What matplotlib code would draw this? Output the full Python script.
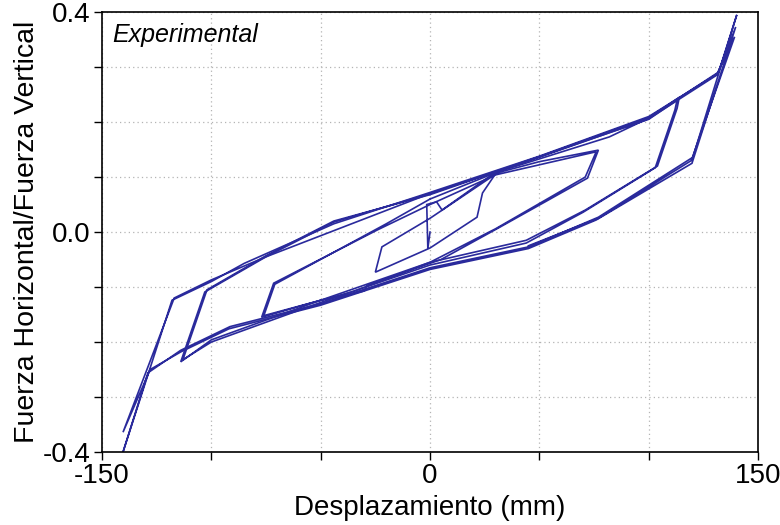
#!/usr/bin/env python3
"""
Hysteresis plot - horizontal/vertical force ratio vs displacement
"""

import matplotlib
matplotlib.use('Agg')
import matplotlib.pyplot as plt
from matplotlib.ticker import FixedLocator

plt.rcParams['font.family'] = ['Liberation Sans', 'DejaVu Sans']

# Values, one stage per amplitude
disp_small = [0.0, -1.0, -1.5, 3.0, 5.5, 31.0, 24.0, 21.5, 0.0, -25.0, -22.0, 0.0, 31.0]
force_small = [0.0, -0.030, 0.050, 0.055, 0.040, 0.112, 0.071, 0.027, -0.029, -0.073, -0.027, 0.025, 0.108]

disp_medium = [31.0, 50.0, 77.0, 72.0, 32.0, 5.0, -29.0, -30.0, -36.0, -50.0, -77.0, -71.5, -24.0, 0.0,
               30.0, 76.0, 71.0, 30.0, 0.0, -35.0, -76.0, -71.0, -20.0, 0.0]
force_medium = [0.108, 0.128, 0.149, 0.098, 0.009, -0.050, -0.097, -0.107, -0.113, -0.124, -0.155, -0.093, 0.004, 0.050,
                0.104, 0.146, 0.100, 0.006, -0.055, -0.108, -0.152, -0.095, 0.015, 0.060]

disp_large = [0.0, 30.0, 82.0, 100.0, 114.0, 113.0, 104.0, 71.0, 44.0, 0.0, -50.0, -100.0, -114.0, -103.0,
              -75.0, -44.0, 0.0, 50.0, 100.0, 113.0, 112.0, 103.0, 70.0, 44.0, 0.0, -50.0, -100.0, -113.0,
              -102.0, -75.0, -44.0, 0.0]
force_large = [0.060, 0.108, 0.173, 0.207, 0.245, 0.225, 0.120, 0.040, -0.015, -0.055, -0.124, -0.196, -0.236, -0.109,
               -0.045, 0.018, 0.070, 0.137, 0.205, 0.240, 0.222, 0.117, 0.036, -0.020, -0.060, -0.128, -0.200, -0.232,
               -0.105, -0.043, 0.020, 0.068]

disp_largest = [0.0, 50.0, 100.0, 132.0, 140.3, 120.2, 77.0, 45.0, 0.0, -50.0, -91.5, -114.0, -129.0, -140.4,
                -118.0, -100.0, -85.0, -44.0, 0.0, 50.0, 100.0, 131.5, 139.8, 119.8, 76.0, 45.0, 0.0, -50.0,
                -92.0, -114.0, -128.0, -140.4, -117.0, -100.0, -75.0, 0.0, 50.0, 100.0, 131.0, 139.3, 119.5,
                77.0, 45.0]
force_largest = [0.068, 0.137, 0.208, 0.291, 0.395, 0.136, 0.027, -0.027, -0.065, -0.130, -0.172, -0.215, -0.256, -0.400,
                 -0.124, -0.090, -0.057, 0.015, 0.072, 0.138, 0.210, 0.288, 0.373, 0.125, 0.022, -0.030, -0.068, -0.133,
                 -0.176, -0.218, -0.250, -0.364, -0.120, -0.087, -0.045, 0.070, 0.136, 0.206, 0.285, 0.355, 0.130,
                 0.025, -0.025]

x_ticks = [-150, -100, -50, 0, 50, 100, 150]
x_labels = ['-150', '', '', '0', '', '', '150']
y_ticks = [-0.4, -0.3, -0.2, -0.1, 0.0, 0.1, 0.2, 0.3, 0.4]
y_labels = ['-0.4', '', '', '', '0.0', '', '', '', '0.4']

LINE_COLOR = '#2a2a9c'


def plot_hysteresis():
    fig = plt.figure(figsize=(7.8, 5.25), dpi=100)
    ax = fig.add_axes([0.1308, 0.139, 0.8410, 0.838])

    stages = [(disp_small, force_small), (disp_medium, force_medium),
              (disp_large, force_large), (disp_largest, force_largest)]
    for d, f in stages:
        ax.plot(d, f, color=LINE_COLOR, linewidth=1.2, solid_joinstyle='miter')

    ax.set_xlim(-150, 150)
    ax.set_ylim(-0.4, 0.4)

    ax.xaxis.set_major_locator(FixedLocator(x_ticks))
    ax.set_xticklabels(x_labels)
    ax.yaxis.set_major_locator(FixedLocator(y_ticks))
    ax.set_yticklabels(y_labels)
    ax.tick_params(direction='out', length=6, width=1.0, labelsize=20, pad=2, colors='black')

    ax.grid(True, color='#b4b4b4', linestyle=(0, (1, 2.5)), linewidth=0.9)
    for sp in ax.spines.values():
        sp.set_linewidth(1.2)

    ax.set_xlabel('Desplazamiento (mm)', fontsize=20, labelpad=4)
    ax.set_ylabel('Fuerza Horizontal/Fuerza Vertical', fontsize=20.5, labelpad=2)

    ax.text(0.016, 0.947, 'Experimental', transform=ax.transAxes, fontsize=18,
            style='italic', ha='left', va='center')

    fig.savefig('out.png', dpi=100)
    plt.close(fig)


if __name__ == '__main__':
    plot_hysteresis()
